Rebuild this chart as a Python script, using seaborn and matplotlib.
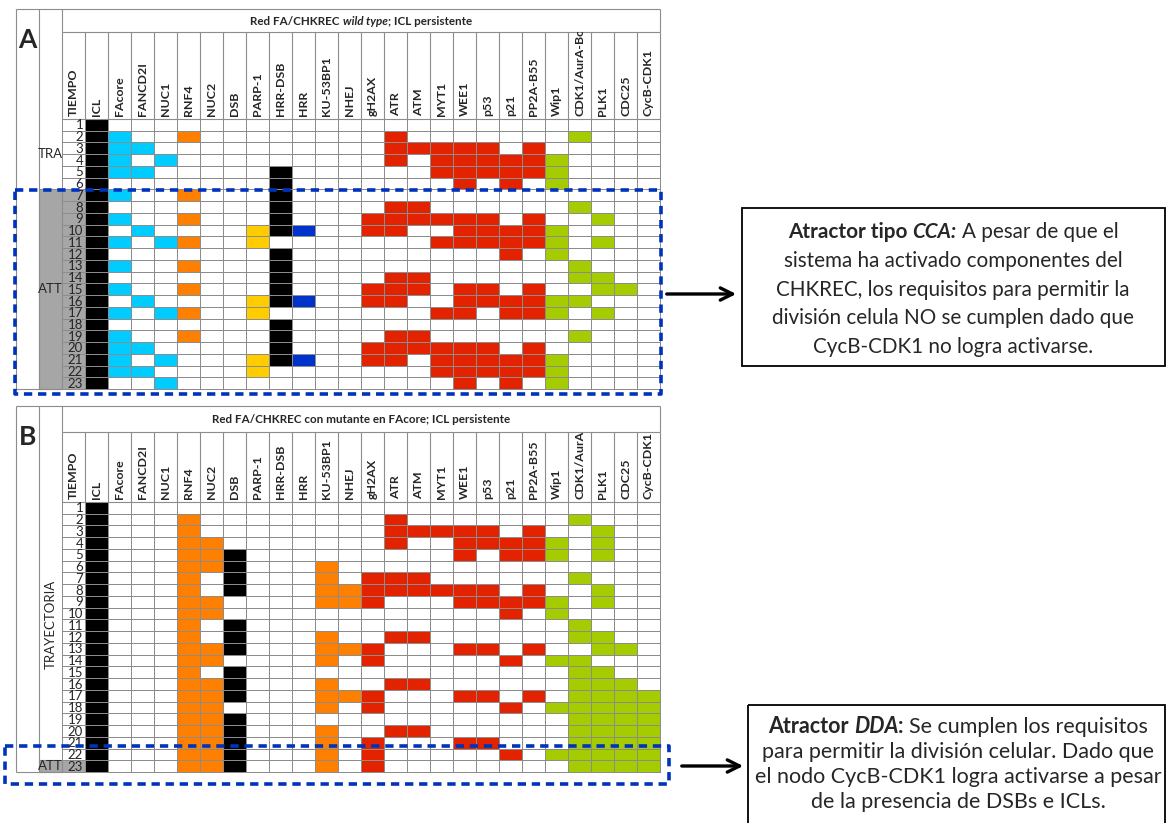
import numpy as np
import matplotlib
matplotlib.use("Agg")
import matplotlib.pyplot as plt
import seaborn as sns
from matplotlib.colors import ListedColormap
from matplotlib.patches import Rectangle

# ---------------- data ----------------
NODES = ["ICL", "FAcore", "FANCD2I", "NUC1", "RNF4", "NUC2", "DSB", "PARP-1", "HRR-DSB", "HRR",
         "KU-53BP1", "NHEJ", "gH2AX", "ATR", "ATM", "MYT1", "WEE1", "p53", "p21", "PP2A-B55",
         "Wip1", "CDK1/AurA-Bora", "PLK1", "CDC25", "CycB-CDK1"]
SHORT = ["ICL", "FAcore", "FANCD2I", "NUC1", "RNF4", "NUC2", "DSB", "PARP", "HRRDSB", "HRR",
         "KU", "NHEJ", "gH2AX", "ATR", "ATM", "MYT1", "WEE1", "p53", "p21", "PP2A",
         "Wip1", "CDK1", "PLK1", "CDC25", "CycB"]
NODE_GROUP = ["black", "cyan", "cyan", "cyan", "orange", "orange", "black", "yellow", "black", "blue",
              "orange", "orange", "red", "red", "red", "red", "red", "red", "red", "red",
              "green", "green", "green", "green", "green"]

TIEMPO = list(range(1, 24))

# Panel A: red FA/CHKREC wild type, persistent ICL (active nodes per time step)
wt_active = [
    "ICL",
    "ICL FAcore RNF4 ATR CDK1",
    "ICL FAcore FANCD2I ATR ATM MYT1 WEE1 p53 PP2A",
    "ICL FAcore NUC1 ATR MYT1 WEE1 p53 p21 PP2A Wip1",
    "ICL FAcore FANCD2I HRRDSB MYT1 WEE1 p53 p21 PP2A Wip1",
    "ICL HRRDSB WEE1 p21 Wip1",
    "ICL FAcore RNF4 HRRDSB",
    "ICL HRRDSB ATR ATM CDK1",
    "ICL FAcore RNF4 HRRDSB gH2AX ATR ATM MYT1 WEE1 p53 PP2A PLK1",
    "ICL FANCD2I PARP HRRDSB HRR gH2AX ATR WEE1 p53 p21 PP2A Wip1",
    "ICL FAcore NUC1 RNF4 PARP MYT1 WEE1 p53 p21 PP2A Wip1 PLK1",
    "ICL HRRDSB p21 Wip1",
    "ICL FAcore RNF4 HRRDSB CDK1",
    "ICL HRRDSB ATR ATM CDK1 PLK1",
    "ICL FAcore RNF4 HRRDSB gH2AX ATR ATM WEE1 p53 PP2A PLK1 CDC25",
    "ICL FANCD2I PARP HRRDSB HRR gH2AX ATR WEE1 p53 p21 PP2A Wip1 CDK1",
    "ICL FAcore NUC1 RNF4 PARP MYT1 WEE1 p21 PP2A Wip1 PLK1",
    "ICL HRRDSB",
    "ICL FAcore RNF4 HRRDSB ATR ATM CDK1",
    "ICL FAcore FANCD2I HRRDSB gH2AX ATR ATM MYT1 WEE1 p53 PP2A",
    "ICL FAcore NUC1 PARP HRRDSB HRR gH2AX ATR MYT1 WEE1 p53 p21 PP2A Wip1",
    "ICL FAcore FANCD2I PARP MYT1 WEE1 p53 p21 PP2A Wip1",
    "ICL NUC1 WEE1 p21 Wip1",
]
wt_phases = [("TRA", 6), ("ATT", 17)]

# Panel B: FAcore mutant, persistent ICL
mut_active = [
    "ICL",
    "ICL RNF4 ATR CDK1",
    "ICL RNF4 ATR ATM MYT1 WEE1 p53 PP2A PLK1",
    "ICL RNF4 NUC2 ATR WEE1 p53 p21 PP2A Wip1 PLK1",
    "ICL RNF4 NUC2 DSB WEE1 p21 PP2A Wip1 PLK1",
    "ICL RNF4 NUC2 DSB KU",
    "ICL RNF4 DSB KU gH2AX ATR ATM CDK1",
    "ICL RNF4 DSB KU NHEJ gH2AX ATR ATM MYT1 WEE1 p53 PP2A PLK1",
    "ICL RNF4 NUC2 KU NHEJ gH2AX WEE1 p53 p21 PP2A Wip1 PLK1",
    "ICL RNF4 NUC2 p21 Wip1",
    "ICL RNF4 DSB CDK1",
    "ICL RNF4 DSB KU ATR ATM CDK1 PLK1",
    "ICL RNF4 NUC2 DSB KU NHEJ gH2AX WEE1 p53 PP2A PLK1 CDC25",
    "ICL RNF4 NUC2 KU gH2AX p21 Wip1 CDK1",
    "ICL RNF4 DSB CDK1 PLK1",
    "ICL RNF4 NUC2 DSB KU ATR ATM CDK1 PLK1 CDC25",
    "ICL RNF4 NUC2 DSB KU NHEJ gH2AX WEE1 p53 PP2A CDK1 PLK1 CDC25 CycB",
    "ICL RNF4 NUC2 KU gH2AX p21 Wip1 CDK1 PLK1 CDC25 CycB",
    "ICL RNF4 NUC2 DSB CDK1 PLK1 CDC25 CycB",
    "ICL RNF4 NUC2 DSB KU ATR ATM CDK1 PLK1 CDC25 CycB",
    "ICL RNF4 NUC2 DSB KU gH2AX WEE1 p53 CDK1 PLK1 CDC25 CycB",
    "ICL RNF4 NUC2 DSB KU gH2AX p21 Wip1 CDK1 PLK1 CDC25 CycB",
    "ICL RNF4 NUC2 DSB KU gH2AX CDK1 PLK1 CDC25 CycB",
]
mut_phases = [("TRAYECTORIA", 22), ("ATT", 1)]

title_A = [("Red FA/CHKREC ", "bold", "normal"), ("wild type", "bold", "italic"),
           ("; ICL persistente", "bold", "normal")]
title_B = [("Red FA/CHKREC con mutante en FAcore; ICL persistente", "bold", "normal")]

note_A = [
    [("Atractor tipo ", "bold", "normal"), ("CCA:", "bold", "italic"), (" A pesar de que el", "normal", "normal")],
    [("sistema ha activado componentes del", "normal", "normal")],
    [("CHKREC, los requisitos para permitir la", "normal", "normal")],
    [("división celula NO se cumplen dado que", "normal", "normal")],
    [("CycB-CDK1 no logra activarse.", "normal", "normal")],
]
note_B = [
    [("Atractor ", "bold", "normal"), ("DDA", "bold", "italic"), (":", "bold", "normal"),
     (" Se cumplen los requisitos", "normal", "normal")],
    [("para permitir la división celular. Dado que", "normal", "normal")],
    [("el nodo CycB-CDK1 logra activarse a pesar", "normal", "normal")],
    [("de la presencia de DSBs e ICLs.", "normal", "normal")],
]

# ---------------- style ----------------
sns.set_style("white")
plt.rcParams["font.family"] = ["Lato", "DejaVu Sans"]

CODES = {"white": 0, "gray": 1, "black": 2, "cyan": 3, "orange": 4, "yellow": 5,
         "blue": 6, "red": 7, "green": 8}
PALETTE = ["#FFFFFF", "#A6A6A6", "#000000", "#00CCFF", "#FF7F00", "#FFCC00",
           "#0033CC", "#E32200", "#A5CC00"]
cmap = ListedColormap(PALETTE)
LINE = "#8C8C8C"
GRAY = "#A6A6A6"

W, H = 1167, 823
fig = plt.figure(figsize=(W / 100, H / 100), dpi=100)
fig.patch.set_facecolor("white")


def build(active, phases):
    M = np.zeros((len(active), 1 + len(NODES)), dtype=int)
    r = 0
    for lab, cnt in phases:
        if lab == "ATT":
            M[r:r + cnt, 0] = CODES["gray"]
        r += cnt
    for i, s in enumerate(active):
        for name in s.split():
            j = SHORT.index(name)
            M[i, j + 1] = CODES[NODE_GROUP[j]]
    return M


def px_axes(l, t, r, b, **kw):
    return fig.add_axes([l / W, 1 - b / H, (r - l) / W, (b - t) / H], **kw)


def panel(grid_px, frame_top_px, title_bot_px, M, phases, letter):
    l, t, r, b = grid_px
    ax = px_axes(l, t, r, b)
    sns.heatmap(M, ax=ax, cmap=cmap, vmin=-0.5, vmax=len(PALETTE) - 0.5, cbar=False,
                linewidths=0.7, linecolor=LINE, xticklabels=False, yticklabels=False)
    ax.collections[0].set_clip_on(False)
    nrow, ncol = M.shape
    rh = (b - t) / nrow
    cw = (r - l) / ncol
    htop = (frame_top_px - t) / rh
    tbot = (title_bot_px - t) / rh
    x0 = -(l - 16) / cw  # frame left
    kw = dict(color=LINE, lw=0.8, clip_on=False)
    # header grid
    ax.vlines(np.arange(ncol + 1), tbot, 0, **kw)
    ax.vlines([0, ncol], htop, tbot, **kw)
    ax.hlines(htop, x0, ncol, **kw)
    ax.hlines(tbot, 0, ncol, **kw)
    ax.hlines(0, 0, ncol, **kw)
    ax.vlines([x0, -1], htop, nrow, **kw)
    ax.hlines(nrow, x0, 0, **kw)
    # phase labels column
    r0 = 0
    for lab, cnt in phases:
        if lab == "ATT":
            ax.add_patch(Rectangle((-1, r0), 1, cnt, facecolor=GRAY, edgecolor=LINE,
                                   lw=0.8, clip_on=False))
        if len(lab) > 4:
            ax.text(-0.5, r0 + cnt / 2 - 0.6, lab, rotation=90, ha="center", va="center",
                    fontsize=9.5, clip_on=False)
        else:
            ax.text(-0.5, r0 + cnt / 2, lab, ha="center", va="center", fontsize=9.5,
                    clip_on=False)
        r0 += cnt
    # time numbers
    for i, tt in enumerate(TIEMPO):
        ax.text(0.92, i + 0.55, str(tt), ha="right", va="center", fontsize=9.5, clip_on=False)
    # header names
    clip = Rectangle((0, tbot), ncol, -tbot, transform=ax.transData)
    for j, name in enumerate(["TIEMPO"] + NODES):
        tx = ax.text(j + 0.5, -0.25, name, rotation=90, ha="center", va="bottom",
                     fontsize=8.9, fontweight="bold", clip_on=True)
        tx.set_clip_path(clip)
    # panel letter
    ax.text((x0 - 1) / 2, htop + 1.55 * (20 / rh), letter, ha="center", va="center",
            fontsize=19, fontweight="bold", clip_on=False)
    return ax


MA = build(wt_active, wt_phases)
MB = build(mut_active, mut_phases)
axA = panel((62, 119, 660, 389), 9, 32, MA, wt_phases, "A")
axB = panel((62, 502, 660, 772), 406, 432, MB, mut_phases, "B")

# ---------------- overlay (pixel coordinates) ----------------
ov = fig.add_axes([0, 0, 1, 1], zorder=10)
ov.set_xlim(0, W)
ov.set_ylim(H, 0)
ov.axis("off")
ov.patch.set_alpha(0)
renderer = fig.canvas.get_renderer()


def text_width(s, size, weight, style):
    t = ov.text(0, 0, s, fontsize=size, fontweight=weight, fontstyle=style)
    w = t.get_window_extent(renderer).width
    t.remove()
    return w


def rich_line(xc, y, segs, size, va="baseline"):
    widths = []
    for s, wgt, sty in segs:
        core = s.strip(" ")
        lead = len(s) - len(s.lstrip(" "))
        trail = len(s) - len(s.rstrip(" "))
        sp = text_width("x x", size, wgt, sty) - text_width("xx", size, wgt, sty)
        widths.append((core, lead * sp, text_width(core, size, wgt, sty), trail * sp, wgt, sty))
    total = sum(a + b + c for _, a, b, c, _, _ in widths)
    x = xc - total / 2
    for core, lw_, cw_, tw_, wgt, sty in widths:
        x += lw_
        ov.text(x, y, core, fontsize=size, fontweight=wgt, fontstyle=sty, ha="left", va=va)
        x += cw_ + tw_


rich_line(361, 21, title_A, 8.4, va="center")
rich_line(361, 419.5, title_B, 8.4, va="center")

# dashed attractor frames
BLUE = "#0033BB"
ov.add_patch(Rectangle((15, 190), 646, 204, fill=False, edgecolor=BLUE, lw=2.6,
                       linestyle=(0, (2.3, 1.6)), joinstyle="round"))
ov.add_patch(Rectangle((5, 746), 664, 38, fill=False, edgecolor=BLUE, lw=2.6,
                       linestyle=(0, (2.3, 1.6)), joinstyle="round"))

# annotation boxes
ov.add_patch(Rectangle((742, 208), 423, 158, fill=False, edgecolor="black", lw=1.3))
ov.add_patch(Rectangle((748, 705), 417, 140, fill=False, edgecolor="black", lw=1.3,
                       clip_on=False))
for k, segs in enumerate(note_A):
    rich_line(953, 238 + 28.8 * k, segs, 14.9)
for k, segs in enumerate(note_B):
    rich_line(958, 733 + 25 * k, segs, 15.5)

ov.annotate("", xy=(739, 294), xytext=(664, 294),
            arrowprops=dict(arrowstyle="->", lw=2.4, color="black", mutation_scale=22))
ov.annotate("", xy=(746, 766), xytext=(679, 766),
            arrowprops=dict(arrowstyle="->", lw=2.4, color="black", mutation_scale=22))

fig.savefig("out.png", dpi=100, facecolor="white")
